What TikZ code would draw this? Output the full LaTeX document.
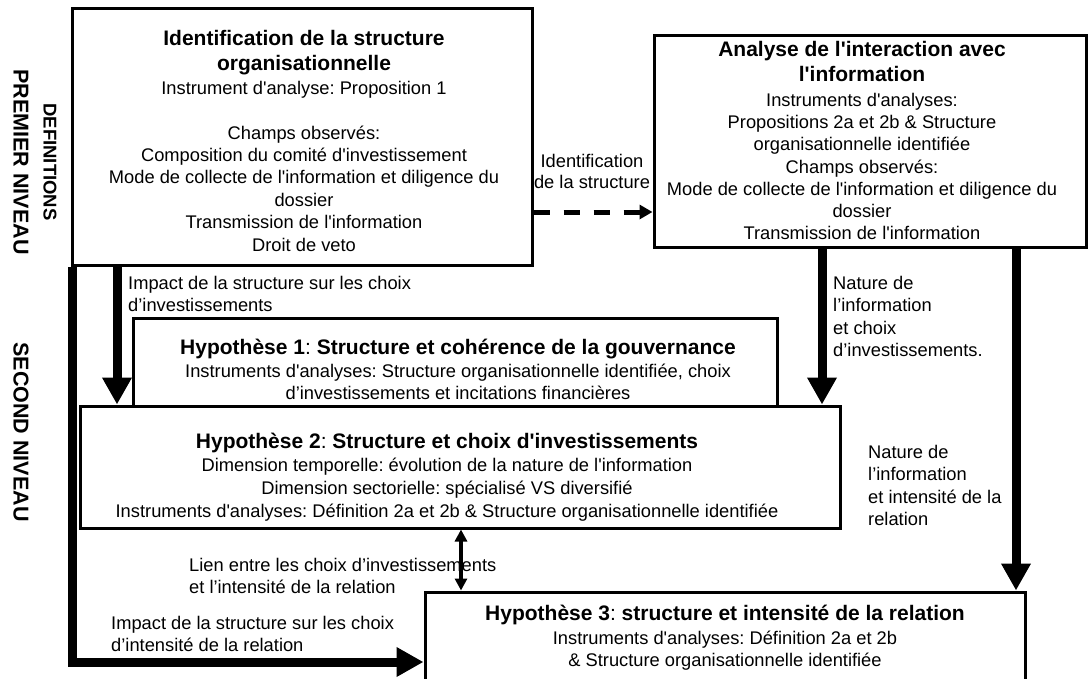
\documentclass[tikz,border=0pt]{standalone}
\usepackage{fontspec}
\setmainfont{Liberation Sans}[Ligatures=TeXOff]
\usetikzlibrary{arrows.meta}
\frenchspacing
\begin{document}
\begin{tikzpicture}[x=1pt,y=-1pt,
  box/.style={draw, line width=3pt, fill=white, inner sep=0pt},
  tt/.style={font=\fontsize{21}{25}\selectfont\bfseries\frenchspacing, inner sep=0pt, anchor=base},
  bd/.style={font=\fontsize{18.3}{22}\selectfont\frenchspacing, inner sep=0pt, anchor=base},
  lb/.style={bd, anchor=base west},
  side/.style={font=\fontsize{21.5}{25}\selectfont\bfseries, rotate=-90, inner sep=0pt},
  big/.style={line width=9pt, line join=miter, -{Triangle[width=28pt,length=27pt]}},
  dbl/.style={line width=3.5pt, {Triangle[width=12pt,length=12pt]}-{Triangle[width=12pt,length=12pt]}},
  dsh/.style={line width=5pt, dash pattern=on 16pt off 14pt, -{Triangle[width=14pt,length=13pt]}}]
\clip (0,0) rectangle (1088,678);
\fill[white] (0,0) rectangle (1088,678);
% boxes
\node[box, minimum width=460pt, minimum height=257pt] (A) at (302,136.5) {};
\node[box, minimum width=432pt, minimum height=212pt] (B) at (870,141) {};
\node[box, minimum width=644pt, minimum height=88pt] (H1) at (455,362) {};
\node[box, minimum width=760pt, minimum height=122pt] (H2) at (460,467) {};
\node[box, minimum width=600pt, minimum height=120pt] (H3) at (725,652) {};
% side labels
\node[side] (s1) at (21,162) {PREMIER NIVEAU};
\node[side, font=\fontsize{18.5}{22}\selectfont\bfseries] (s2) at (50,162) {DEFINITIONS};
\node[side] (s3) at (21,432) {SECOND NIVEAU};
% box A text
\node[tt] (a1) at (304,45.5) {Identification de la structure};
\node[tt] (a2) at (304,70.5) {organisationnelle};
\node[bd] (a3) at (304,94.5) {Instrument d'analyse: Proposition 1};
\node[bd] (a4) at (304,139.5) {Champs observés:};
\node[bd] (a5) at (304,161.5) {Composition du comité d'investissement};
\node[bd] (a6) at (304,183.5) {Mode de collecte de l'information et diligence du};
\node[bd] (a7) at (304,206.5) {dossier};
\node[bd] (a8) at (304,228.5) {Transmission de l'information};
\node[bd] (a9) at (304,251.5) {Droit de veto};
% box B text
\node[tt] (b1) at (862,56.5) {Analyse de l'interaction avec};
\node[tt] (b2) at (862,81.5) {l'information};
\node[bd] (b3) at (862,106.5) {Instruments d'analyses:};
\node[bd] (b4) at (862,128.5) {Propositions 2a et 2b \& Structure};
\node[bd] (b5) at (862,150.5) {organisationnelle identifiée};
\node[bd] (b6) at (862,173.5) {Champs observés:};
\node[bd] (b7) at (862,195.5) {Mode de collecte de l'information et diligence du};
\node[bd] (b8) at (862,217.5) {dossier};
\node[bd] (b9) at (862,239.5) {Transmission de l'information};
% hypothesis texts
\node[tt] (h1) at (458,354.5) {Hypothèse 1\textmd{:} Structure et cohérence de la gouvernance};
\node[bd] (h2) at (458,377.5) {Instruments d'analyses: Structure organisationnelle identifiée, choix};
\node[bd] (h3) at (458,399.5) {d’investissements et incitations financières};
\node[tt] (h4) at (447,448.5) {Hypothèse 2\textmd{:} Structure et choix d'investissements};
\node[bd] (h5) at (447,471.5) {Dimension temporelle: évolution de la nature de l'information};
\node[bd] (h6) at (447,494.5) {Dimension sectorielle: spécialisé VS diversifié};
\node[bd] (h7) at (447,517.5) {Instruments d'analyses: Définition 2a et 2b \& Structure organisationnelle identifiée};
\node[tt] (h8) at (725,620) {Hypothèse 3\textmd{:} structure et intensité de la relation};
\node[bd] (h9) at (725,644.5) {Instruments d'analyses: Définition 2a et 2b};
\node[bd] (h10) at (725,666.5) {\& Structure organisationnelle identifiée};
% connector labels
\node[bd] (l1) at (592,167) {Identification};
\node[bd] (l2) at (592,188) {de la structure};
\node[lb] (l3) at (128,289) {Impact de la structure sur les choix};
\node[lb] (l4) at (128,311) {d’investissements};
\node[lb] (l5) at (833,289.5) {Nature de};
\node[lb] (l6) at (833,311.5) {l’information};
\node[lb] (l7) at (833,334) {et choix};
\node[lb] (l8) at (833,356) {d’investissements.};
\node[lb] (l9) at (868,458.5) {Nature de};
\node[lb] (l10) at (868,480.5) {l’information};
\node[lb] (l11) at (868,503.5) {et intensité de la};
\node[lb] (l12) at (868,525.5) {relation};
\node[lb] (l13) at (189,571) {Lien entre les choix d’investissements};
\node[lb] (l14) at (189,593) {et l’intensité de la relation};
\node[lb] (l15) at (111,629.5) {Impact de la structure sur les choix};
\node[lb] (l16) at (111,651.5) {d’intensité de la relation};
% connectors
\coordinate (dy) at (0,212);
\coordinate (ax) at (117,0);
\coordinate (bx) at (822,0);
\coordinate (cx) at (1016,0);
\coordinate (dx) at (461,0);
\coordinate (lc) at (72.5,662);
\draw[dsh] (A.east |- dy) -- (B.west |- dy);
\draw[big] (A.south -| ax) -- (H2.north -| ax);
\draw[big] (B.south -| bx) -- (H2.north -| bx);
\draw[big] (B.south -| cx) -- (H3.north -| cx);
\draw[big] (A.south west -| lc) -- (lc) -- (lc -| H3.west);
\draw[dbl] (H2.south -| dx) -- (H3.north -| dx);
\end{tikzpicture}
\end{document}
